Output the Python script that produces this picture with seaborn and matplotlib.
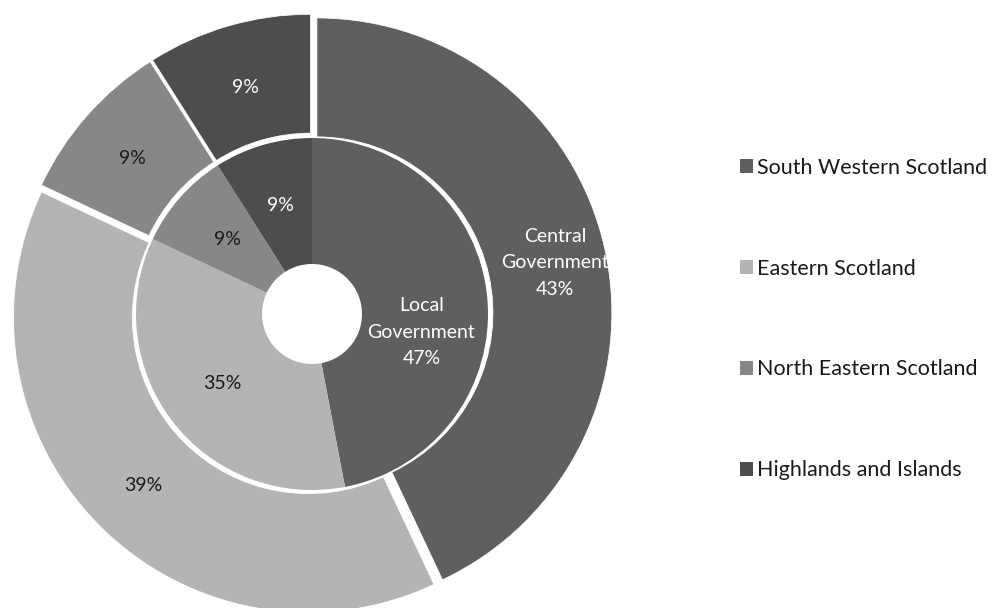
import numpy as np
import matplotlib
matplotlib.use("Agg")
import matplotlib.pyplot as plt
from matplotlib.patches import Patch
import seaborn as sns

# Regional shares of public sector employment
regions = ["South Western Scotland", "Eastern Scotland",
           "North Eastern Scotland", "Highlands and Islands"]
local_gov = [47, 35, 9, 9]      # inner ring
central_gov = [43, 39, 9, 9]    # outer ring
series_names = ["Local Government", "Central Government"]

sns.set_theme(style="white")
plt.rcParams["font.family"] = ["Lato", "DejaVu Sans"]

palette = sns.color_palette(["#5f5f5f", "#b4b4b4", "#878787", "#4d4d4d"])
text_colors = ["white", "#1a1a1a", "#1a1a1a", "white"]

W, H = 996, 608
fig = plt.figure(figsize=(W / 100, H / 100), dpi=100)
ax = fig.add_axes([0, 0, 1, 1])

cx, cy = 312, 608 - 314
r_outer, r_mid, r_hole = 295, 176, 50
gap = 5

# outer ring: central government, slightly exploded
ax.pie(central_gov, radius=r_outer, center=(cx, cy), startangle=90,
       counterclock=False, colors=palette, explode=[gap] * 4,
       wedgeprops=dict(width=r_outer - r_mid, edgecolor="white", linewidth=0.6))
# inner ring: local government
ax.pie(local_gov, radius=r_mid, center=(cx, cy), startangle=90,
       counterclock=False, colors=palette,
       wedgeprops=dict(width=r_mid - r_hole, linewidth=0))

ax.set_xlim(0, W)
ax.set_ylim(0, H)
ax.set_aspect("equal")
ax.axis("off")


def mid_angles(vals):
    frac = np.cumsum([0] + list(vals)) / sum(vals)
    return np.deg2rad(90 - 360 * (frac[:-1] + frac[1:]) / 2)


fs = 14
ls = 1.67
# outer labels
for i, (v, a) in enumerate(zip(central_gov, mid_angles(central_gov))):
    txt = f"{v}%"
    d = 0.81 * r_outer
    if i == 0:
        txt = f"{series_names[1].replace(' ', chr(10))}\n{txt}"
        d = 0.845 * r_outer
    x, y = cx + d * np.cos(a), cy + d * np.sin(a) - 3
    ax.text(x, y, txt, ha="center", va="center", color=text_colors[i],
            fontsize=fs, linespacing=ls)

# inner labels
for i, (v, a) in enumerate(zip(local_gov, mid_angles(local_gov))):
    d = (r_mid + r_hole) / 2
    x, y = cx + d * np.cos(a), cy + d * np.sin(a)
    txt = f"{v}%"
    if i == 0:
        txt = f"{series_names[0].replace(' ', chr(10))}\n{txt}"
        y -= 29
        x -= 3
    ax.text(x, y, txt, ha="center", va="center", color=text_colors[i],
            fontsize=fs, linespacing=ls)

handles = [Patch(facecolor=c, edgecolor="none") for c in palette]
fig.legend(handles, regions, loc="upper left",
           bbox_to_anchor=(731 / W, 1 - 149 / H), frameon=False,
           fontsize=15.5, handlelength=0.6, handleheight=0.6,
           handletextpad=0.2, labelspacing=3.76, borderaxespad=0,
           labelcolor="#1a1a1a")

fig.savefig("out.png", dpi=100, facecolor="white")
